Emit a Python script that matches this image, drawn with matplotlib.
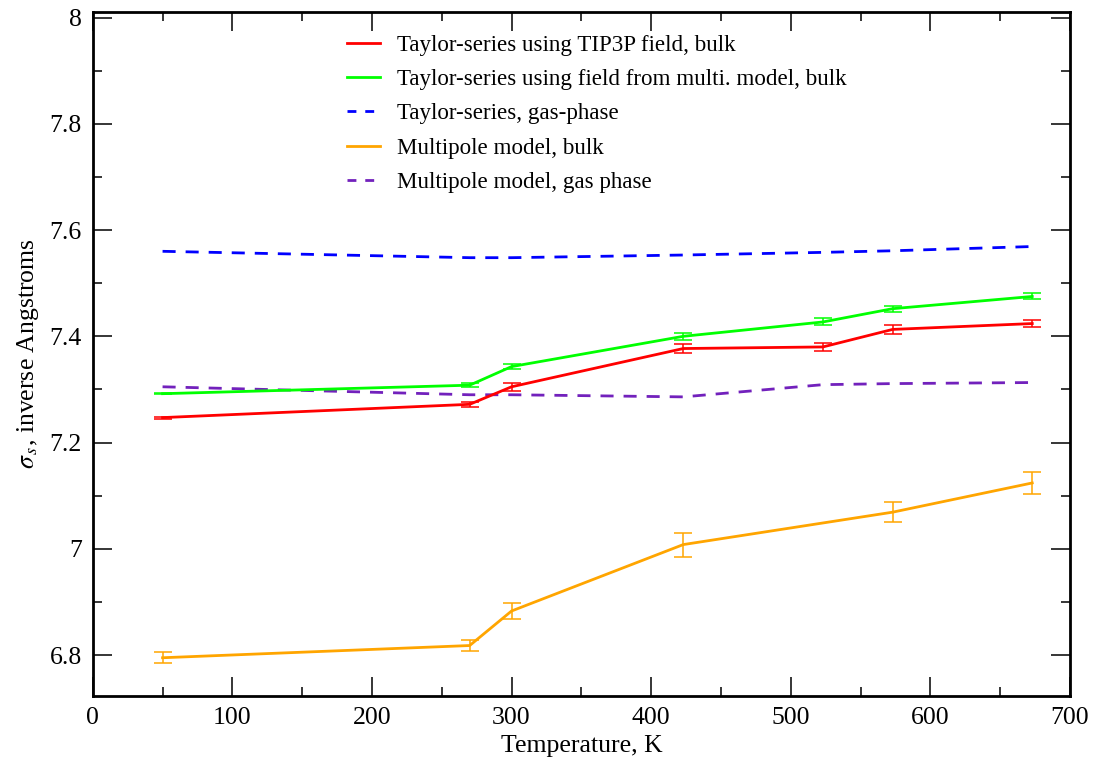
import numpy as np
import matplotlib
matplotlib.use('Agg')
import matplotlib.pyplot as plt
from matplotlib.ticker import MultipleLocator, FormatStrFormatter
from matplotlib.lines import Line2D

plt.rcParams['font.family'] = ['Liberation Serif', 'DejaVu Serif']
plt.rcParams['mathtext.fontset'] = 'stix'

# temperatures, K
temps = [50, 270, 300, 423, 523, 573, 673]
temps_multi = [50, 270, 300, 423, 573, 673]

tip3p_bulk = [7.247, 7.272, 7.305, 7.377, 7.380, 7.413, 7.424]
tip3p_err = [0.002, 0.005, 0.008, 0.008, 0.008, 0.009, 0.007]

multi_field_bulk = [7.292, 7.308, 7.343, 7.400, 7.427, 7.452, 7.475]
multi_field_err = [0.001, 0.004, 0.005, 0.006, 0.0066, 0.0056, 0.0056]

taylor_gas = [7.560, 7.548, 7.548, 7.553, 7.558, 7.561, 7.569]

multipole_bulk = [6.795, 6.818, 6.883, 7.008, 7.069, 7.124]
multipole_err = [0.0104, 0.0104, 0.0144, 0.0226, 0.019, 0.0204]

multipole_gas = [7.305, 7.290, 7.290, 7.286, 7.309, 7.311, 7.313]

labels = ['Taylor-series using TIP3P field, bulk',
          'Taylor-series using field from multi. model, bulk',
          'Taylor-series, gas-phase',
          'Multipole model, bulk',
          'Multipole model, gas phase']
colors = ['#ff0000', '#00ff00', '#0000ff', '#ffa500', '#7221bc']

fig = plt.figure(figsize=(10.94, 7.59), dpi=100)
ax = fig.add_axes([0.0848, 0.083, 0.8932, 0.9016])

lw = 2.0
dash = (4.7, 3.6)
eb = dict(lw=lw, elinewidth=1.1, capsize=6.8, capthick=1.1)
ax.errorbar(temps, tip3p_bulk, yerr=tip3p_err, color=colors[0], **eb)
ax.errorbar(temps, multi_field_bulk, yerr=multi_field_err, color=colors[1], **eb)
ax.plot(temps, taylor_gas, color=colors[2], lw=lw, dashes=dash)
ax.errorbar(temps_multi, multipole_bulk, yerr=multipole_err, color=colors[3], **eb)
ax.plot(temps, multipole_gas, color=colors[4], lw=lw, dashes=dash)

ax.set_xlim(0, 700)
ax.set_ylim(6.723, 8.011)
ax.xaxis.set_major_locator(MultipleLocator(100))
ax.xaxis.set_minor_locator(MultipleLocator(50))
ax.yaxis.set_major_locator(MultipleLocator(0.2))
ax.yaxis.set_minor_locator(MultipleLocator(0.1))
ax.yaxis.set_major_formatter(FormatStrFormatter('%g'))

ax.tick_params(which='both', direction='in', top=True, right=True, labelsize=18.5)
ax.tick_params(which='major', length=13.5, width=1.1, pad=8)
ax.tick_params(which='minor', length=6.5, width=1.1)
for s in ax.spines.values():
    s.set_linewidth(2.0)

ax.set_xlabel('Temperature, K', fontsize=18.5, labelpad=4)
ax.set_ylabel(r'$\sigma_{\,s}$, inverse Angstroms', fontsize=18.5, labelpad=6)

handles = [Line2D([], [], color=colors[0], lw=lw),
           Line2D([], [], color=colors[1], lw=lw),
           Line2D([], [], color=colors[2], lw=lw, dashes=(3.2, 3.2)),
           Line2D([], [], color=colors[3], lw=lw),
           Line2D([], [], color=colors[4], lw=lw, dashes=(3.2, 3.2))]
ax.legend(handles, labels, loc='upper left', bbox_to_anchor=(0.251, 0.98),
          frameon=False, fontsize=16.6, handlelength=1.4, handletextpad=0.75,
          labelspacing=0.57, borderaxespad=0)

fig.savefig('out.png', dpi=100)
